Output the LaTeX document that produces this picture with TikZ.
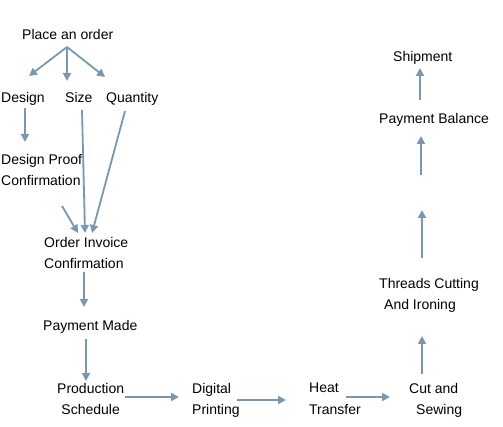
\documentclass[tikz,border=0pt]{standalone}
\usepackage{fontspec}
\setmainfont{Liberation Sans}
\usetikzlibrary{arrows.meta}
\definecolor{arr}{HTML}{7B97AD}
\tikzset{
  lbl/.style={anchor=north west, inner sep=0pt, align=left, font=\fontsize{14}{21.5}\selectfont},
  flow/.style={draw=arr, line width=1.8pt, -{Triangle[width=8pt,length=8pt]}},
  plain/.style={draw=arr, line width=1.8pt}
}
\begin{document}
\begin{tikzpicture}[x=1pt,y=-1pt]
\useasboundingbox (0,0) rectangle (503,427);
% text nodes
\node[lbl] (order) at (22,29) {Place an order};
\node[lbl] (design) at (1,92) {Design};
\node[lbl] (size) at (65,92) {Size};
\node[lbl] (qty) at (106,92) {Quantity};
\node[lbl] (proof) at (1,154) {Design Proof\\Confirmation};
\node[lbl] (invoice) at (44,237) {Order Invoice\\Confirmation};
\node[lbl] (paid) at (43,320) {Payment Made};
\node[lbl, align=center] (prod) at (57,383) {Production\\Schedule};
\node[lbl] (digital) at (192,383) {Digital\\Printing};
\node[lbl] (heat) at (309,383) {Heat\\Transfer};
\node[lbl] (cut) at (409,383) {Cut and\\\hspace*{7pt}Sewing};
\node[lbl] (threads) at (379,278) {Threads Cutting\\\hspace*{5pt}And Ironing};
\node[lbl] (balance) at (379,113) {Payment Balance};
\node[lbl] (ship) at (393,51) {Shipment};
% connector end points
\coordinate (o0) at (67,47);
\coordinate (o1) at (29,76);
\coordinate (o2) at (67,81);
\coordinate (o3) at (105,77);
\coordinate (d0) at (25,108);
\coordinate (d1) at (25,142);
\coordinate (s0) at (82,110);
\coordinate (s1) at (85,233);
\coordinate (q0) at (125,111);
\coordinate (q1) at (92,233);
\coordinate (p0) at (62,206);
\coordinate (p1) at (78,233);
\coordinate (i0) at (84,272);
\coordinate (i1) at (84,307);
\coordinate (m0) at (86,339);
\coordinate (m1) at (86,381);
\coordinate (r0) at (125,397);
\coordinate (r1) at (179,397);
\coordinate (g0) at (237,400);
\coordinate (g1) at (286,400);
\coordinate (h0) at (346,397);
\coordinate (h1) at (390,397);
\coordinate (c0) at (422,374);
\coordinate (c1) at (422,336);
\coordinate (t0) at (422,258);
\coordinate (t1) at (422,210);
\coordinate (b0) at (421,175);
\coordinate (b1) at (421,136);
\coordinate (y0) at (420,100);
\coordinate (y1) at (420,68);
% connectors
\draw[flow] (o0) -- (o1);
\draw[flow] (o0) -- (o2);
\draw[flow] (o0) -- (o3);
\draw[flow] (d0) -- (d1);
\draw[flow] (s0) -- (s1);
\draw[flow] (q0) -- (q1);
\draw[flow] (p0) -- (p1);
\draw[flow] (i0) -- (i1);
\draw[flow] (m0) -- (m1);
\draw[flow] (r0) -- (r1);
\draw[flow] (g0) -- (g1);
\draw[flow] (h0) -- (h1);
\draw[flow] (c0) -- (c1);
\draw[flow] (t0) -- (t1);
\draw[flow] (b0) -- (b1);
\draw[flow] (y0) -- (y1);
\end{tikzpicture}
\end{document}
